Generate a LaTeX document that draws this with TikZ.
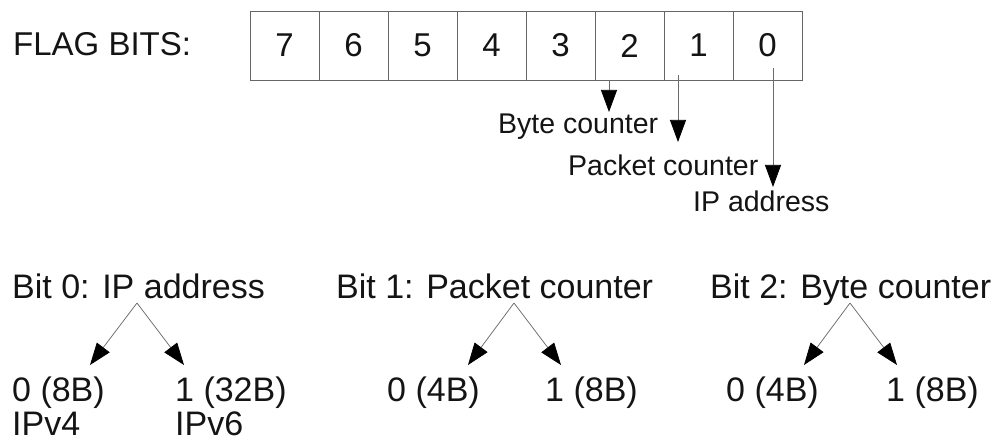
\documentclass[tikz,border=0pt]{standalone}
\usepackage{fontspec}
\setmainfont{Liberation Sans}
\usetikzlibrary{arrows.meta}
\begin{document}
\begin{tikzpicture}[x=1pt,y=-1pt,
  bitcell/.style={draw=black!60,line width=0.9pt,minimum width=69pt,minimum height=69pt,
    inner sep=0pt,text=black!92,font=\fontsize{33}{33}\selectfont},
  bigtext/.style={inner sep=0pt,anchor=base west,text=black!92,font=\fontsize{34}{34}\selectfont},
  smalltext/.style={inner sep=0pt,anchor=base west,text=black!92,font=\fontsize{28.5}{28.5}\selectfont},
  pointer/.style={draw=black!58,line width=0.75pt,-{Triangle[length=22pt,width=16pt,fill=black,color=black]}},
]
\useasboundingbox (0,0) rectangle (997,443);

% flag byte
\node[bigtext,font=\fontsize{33}{33}\selectfont] (flaglabel) at (13,55.5) {FLAG BITS:};
\foreach \d [count=\i from 0] in {7,6,5,4,3,2,1} {
  \node[bitcell] (bit\d) at ({250+69*(\i+0.5)},45.5) {\d};
}
\node[bitcell] (bit0) at ({250+69*7.5},45.5) {0};

% pointers from the low bits to their meanings
\coordinate (bytefrom) at ([xshift=-20.5pt]bit2.south);
\coordinate (packetfrom) at ([xshift=-20.5pt,yshift=5pt]bit1.south);
\coordinate (ipfrom) at ([xshift=5.5pt,yshift=12pt]bit0.south);
\coordinate (bytetip) at (609,112);
\coordinate (packettip) at (678,142);
\coordinate (iptip) at (773,187);
\draw[pointer] (bytefrom) -- (bytetip);
\draw[pointer] (packetfrom) -- (packettip);
\draw[pointer] (ipfrom) -- (iptip);

\node[smalltext] (bytelabel) at (498,133.5) {Byte counter};
\node[smalltext] (packetlabel) at (568,176) {Packet counter};
\node[smalltext] (iplabel) at (693,212) {IP address};

% bit 0: IP address
\node[bigtext] (head0) at (12,299) {Bit 0: IP address};
\coordinate (apex0) at (137,303);
\coordinate (tipA0) at (90,365);
\coordinate (tipB0) at (184,365);
\draw[pointer] (apex0) -- (tipA0);
\draw[pointer] (apex0) -- (tipB0);
\node[bigtext] (val00) at (12,402) {0 (8B)};
\node[bigtext] (val01) at (175,402) {1 (32B)};
\node[bigtext] (ver4) at (12,435.5) {IPv4};
\node[bigtext] (ver6) at (175,435.5) {IPv6};

% bit 1: packet counter
\node[bigtext] (head1) at (336,299) {Bit 1: Packet counter};
\coordinate (apex1) at (514,303);
\coordinate (tipA1) at (468,365);
\coordinate (tipB1) at (561,365);
\draw[pointer] (apex1) -- (tipA1);
\draw[pointer] (apex1) -- (tipB1);
\node[bigtext] (val10) at (387,402) {0 (4B)};
\node[bigtext] (val11) at (545,402) {1 (8B)};

% bit 2: byte counter
\node[bigtext] (head2) at (710,299) {Bit 2: Byte counter};
\coordinate (apex2) at (850,303);
\coordinate (tipA2) at (804,365);
\coordinate (tipB2) at (897,365);
\draw[pointer] (apex2) -- (tipA2);
\draw[pointer] (apex2) -- (tipB2);
\node[bigtext] (val20) at (726,402) {0 (4B)};
\node[bigtext] (val21) at (886,402) {1 (8B)};
\end{tikzpicture}
\end{document}
